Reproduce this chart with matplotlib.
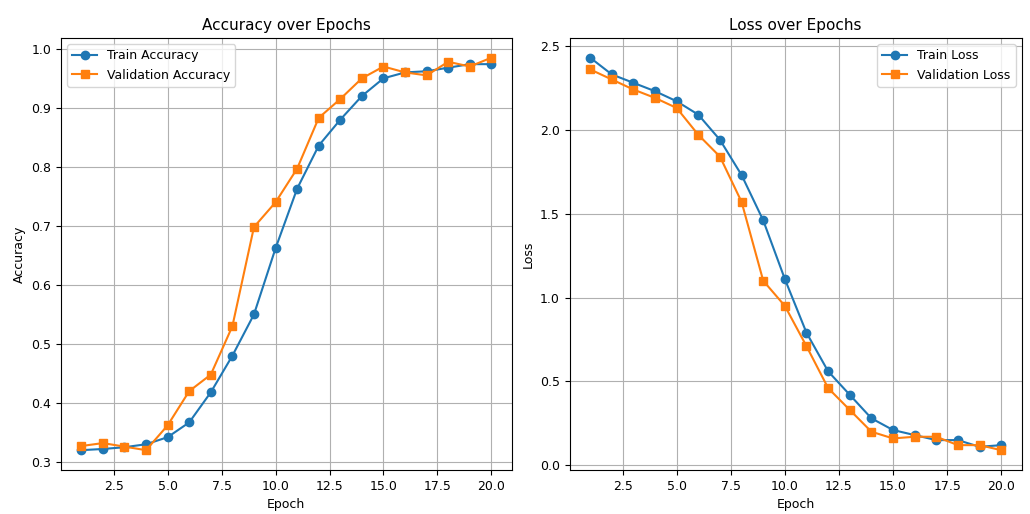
import numpy as np
import matplotlib.pyplot as plt

epochs = list(range(1, 21))

train_acc = [0.320, 0.322, 0.325, 0.330, 0.342, 0.367, 0.418, 0.480, 0.550, 0.662,
             0.763, 0.836, 0.880, 0.920, 0.950, 0.960, 0.962, 0.968, 0.974, 0.974]
val_acc = [0.327, 0.332, 0.326, 0.320, 0.362, 0.420, 0.448, 0.530, 0.698, 0.740,
           0.797, 0.883, 0.915, 0.950, 0.970, 0.960, 0.955, 0.978, 0.970, 0.985]

train_loss = [2.43, 2.33, 2.28, 2.23, 2.17, 2.09, 1.94, 1.73, 1.46, 1.11,
              0.79, 0.56, 0.42, 0.28, 0.21, 0.18, 0.15, 0.15, 0.11, 0.12]
val_loss = [2.36, 2.30, 2.24, 2.19, 2.13, 1.97, 1.84, 1.57, 1.10, 0.95,
            0.71, 0.46, 0.33, 0.20, 0.16, 0.17, 0.17, 0.12, 0.12, 0.09]

plt.rcParams['font.size'] = 9

fig = plt.figure(figsize=(10.3, 5.14), dpi=100)

# accuracy panel
ax1 = fig.add_axes([0.059, 0.086, 0.438, 0.840])
ax1.plot(epochs, train_acc, marker='o', label='Train Accuracy')
ax1.plot(epochs, val_acc, marker='s', label='Validation Accuracy')
ax1.set_title('Accuracy over Epochs', fontsize=11)
ax1.set_xlabel('Epoch')
ax1.set_ylabel('Accuracy')
ax1.legend()
ax1.grid(True)

# loss panel
ax2 = fig.add_axes([0.553, 0.086, 0.439, 0.840])
ax2.plot(epochs, train_loss, marker='o', label='Train Loss')
ax2.plot(epochs, val_loss, marker='s', label='Validation Loss')
ax2.set_title('Loss over Epochs', fontsize=11)
ax2.set_xlabel('Epoch')
ax2.set_ylabel('Loss')
ax2.legend()
ax2.grid(True)

plt.savefig('out.png')
